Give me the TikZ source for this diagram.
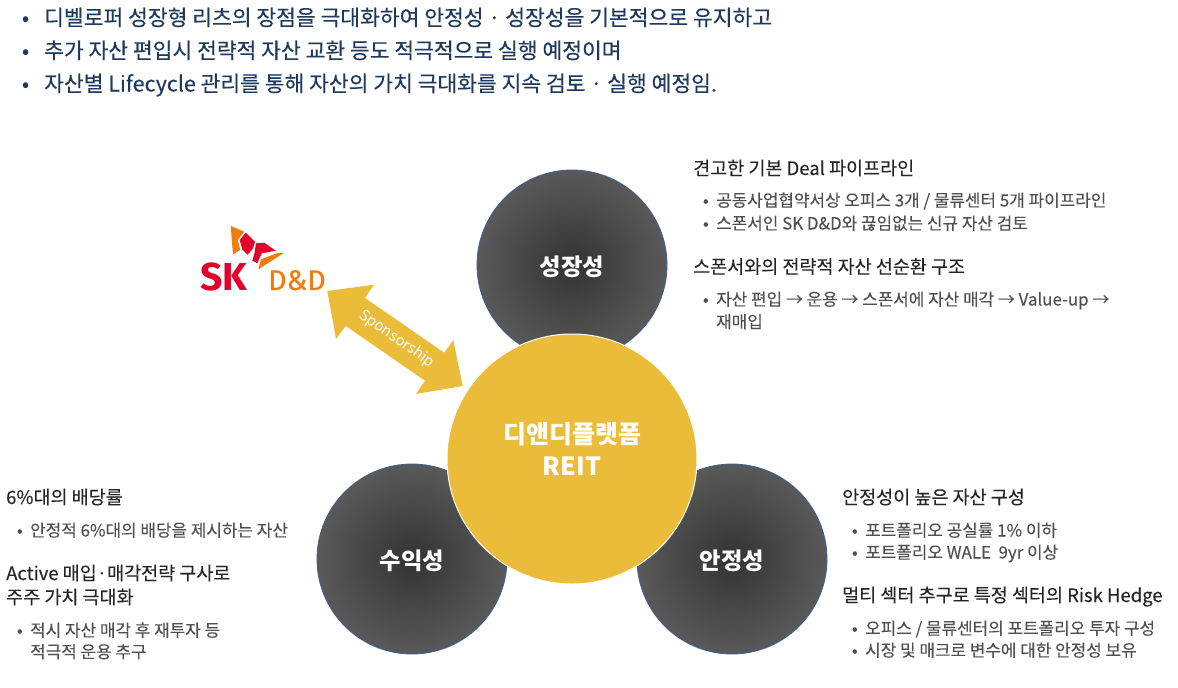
\documentclass[tikz,border=0pt]{standalone}
\usepackage{fontspec}
\setmainfont{Noto Sans CJK KR}
\newfontfamily\logofont{Fira Sans}
\newfontfamily\logomed[FakeBold=0.5]{Fira Sans}
\newfontfamily\medfont[FakeBold=0.25]{Noto Sans CJK KR}
\newfontfamily\semifont[FakeBold=0.12]{Noto Sans CJK KR}
\definecolor{navy}{HTML}{1F3A5F}
\definecolor{gold}{HTML}{EBBB3A}
\definecolor{headc}{HTML}{262626}
\definecolor{bodyc}{HTML}{505050}
\definecolor{ringc}{HTML}{3F5F8F}
\definecolor{skred}{HTML}{E4002B}
\definecolor{skor}{HTML}{F07C0C}
\newcommand{\bu}{\makebox[0pt][r]{•\hspace{7.5pt}}}
\newcommand{\bul}{\makebox[0pt][r]{•\hspace{15pt}}}
\tikzset{
  lead/.style={anchor=base west,text=navy,font=\medfont\fontsize{21.5}{24}\selectfont,inner sep=0pt},
  head/.style={anchor=base west,text=headc,font=\semifont\fontsize{18.5}{26}\selectfont,inner sep=0pt,align=left},
  body/.style={anchor=base west,text=bodyc,font=\semifont\fontsize{16.9}{24}\selectfont,inner sep=0pt,align=left},
  ball/.style={circle,minimum size=190pt,inner sep=0pt,draw=ringc,line width=0.8pt,inner color=black!80,outer color=black!65},
  balltext/.style={text=white,inner sep=0pt,align=center,font=\bfseries\fontsize{23.3}{32}\selectfont},
}
\begin{document}
\begin{tikzpicture}[x=1pt,y=-1pt]
\useasboundingbox (0,0) rectangle (1178,688);
% top lines
\node[lead] (l1) at (44,25.5) {\bul 디벨로퍼 성장형 리츠의 장점을 극대화하여 안정성 · 성장성을 기본적으로 유지하고};
\node[lead] (l2) at (44,58.5) {\bul 추가 자산 편입시 전략적 자산 교환 등도 적극적으로 실행 예정이며};
\node[lead] (l3) at (44,91.5) {\bul 자산별 Lifecycle 관리를 통해 자산의 가치 극대화를 지속 검토 · 실행 예정임.};
% circles
\node[ball] (grow) at (572,265) {};
\node[ball] (income) at (412,559) {};
\node[ball] (stable) at (732,559) {};
\node[balltext] (growt) at (572,266.5) {성장성};
\node[balltext] (incomet) at (412,560.5) {수익성};
\node[balltext] (stablet) at (732,560.5) {안정성};
\node[circle,minimum size=250pt,inner sep=0pt,fill=gold,draw=white,line width=1pt] (reit) at (572,459) {};
\node[balltext,font=\bfseries\fontsize{25}{32}\selectfont] (reitt) at (572,449) {디앤디플랫폼\\REIT};
% sponsorship arrow
\fill[gold] (327.3,291) -- (374,284.7) -- (365,298) -- (444.3,352.7) -- (453.3,340) -- (462.7,386) -- (416,394) -- (425,380.7) -- (345.7,326) -- (336,339) -- cycle;
\node[rotate=-35,text=white,font=\fontsize{15}{18}\selectfont,inner sep=0pt] (spons) at (397,339) {Sponsorship};
% logo
\fill[skor] (230.7,226) -- (244.3,231.7) -- (237.7,240) -- (240.3,250) -- (233,254.3) -- cycle;
\fill[skred] (245.7,232.7) -- (255,242) -- (253,248.3) -- (247.7,254.7) -- (242.3,249.3) -- (239.7,240) -- cycle;
\fill[skred] (256,243.3) -- (264.3,242.7) -- (275.7,250.7) -- (261.7,253.3) -- (257.3,263.3) -- (252.3,260.7) -- (254.3,254) -- cycle;
\fill[skor] (284.3,252.7) -- (258.3,269.3) -- (261,259.3) -- (276.7,253.3) -- cycle;
\node[anchor=base west,inner sep=0pt,text=skred,font=\logofont\fontsize{39}{40}\selectfont\bfseries] (sk) at (200,290.5) {SK};
\node[anchor=base west,inner sep=0pt,text=skor,font=\logomed\fontsize{28.5}{28}\selectfont] (dd) at (268,290) {D\&D};
% upper right
\node[head] (h1) at (693,175) {견고한 기본 Deal 파이프라인};
\node[body] (b1) at (716,206.5) {\bu 공동사업협약서상 오피스 3개 / 물류센터 5개 파이프라인};
\node[body] (b2) at (716,229.5) {\bu 스폰서인 SK D\&D와 끊임없는 신규 자산 검토};
\node[head] (h2) at (693,273.5) {스폰서와의 전략적 자산 선순환 구조};
\node[body] (b3) at (716,305.5) {\bu 자산 편입 → 운용 → 스폰서에 자산 매각 → Value-up →};
\node[body] (b4) at (716,328) {재매입};
% lower right
\node[head] (h3) at (842,504) {안정성이 높은 자산 구성};
\node[body] (b5) at (865,536.5) {\bu 포트폴리오 공실률 1\% 이하};
\node[body] (b6) at (865,558.5) {\bu 포트폴리오 WALE\ \ 9yr 이상};
\node[head] (h4) at (842,602) {멀티 섹터 추구로 특정 섹터의 Risk Hedge};
\node[body] (b7) at (865,634.5) {\bu 오피스 / 물류센터의 포트폴리오 투자 구성};
\node[body] (b8) at (865,656.5) {\bu 시장 및 매크로 변수에 대한 안정성 보유};
% left
\node[head] (h5) at (6,504) {6\%대의 배당률};
\node[body] (b9) at (30,536.5) {\bu 안정적 6\%대의 배당을 제시하는 자산};
\node[head] (h6) at (6,580) {Active 매입·매각전략 구사로};
\node[head] (h7) at (6,604) {주주 가치 극대화};
\node[body] (b10) at (30,636.5) {\bu 적시 자산 매각 후 재투자 등};
\node[body] (b11) at (30,658) {적극적 운용 추구};
\end{tikzpicture}
\end{document}
